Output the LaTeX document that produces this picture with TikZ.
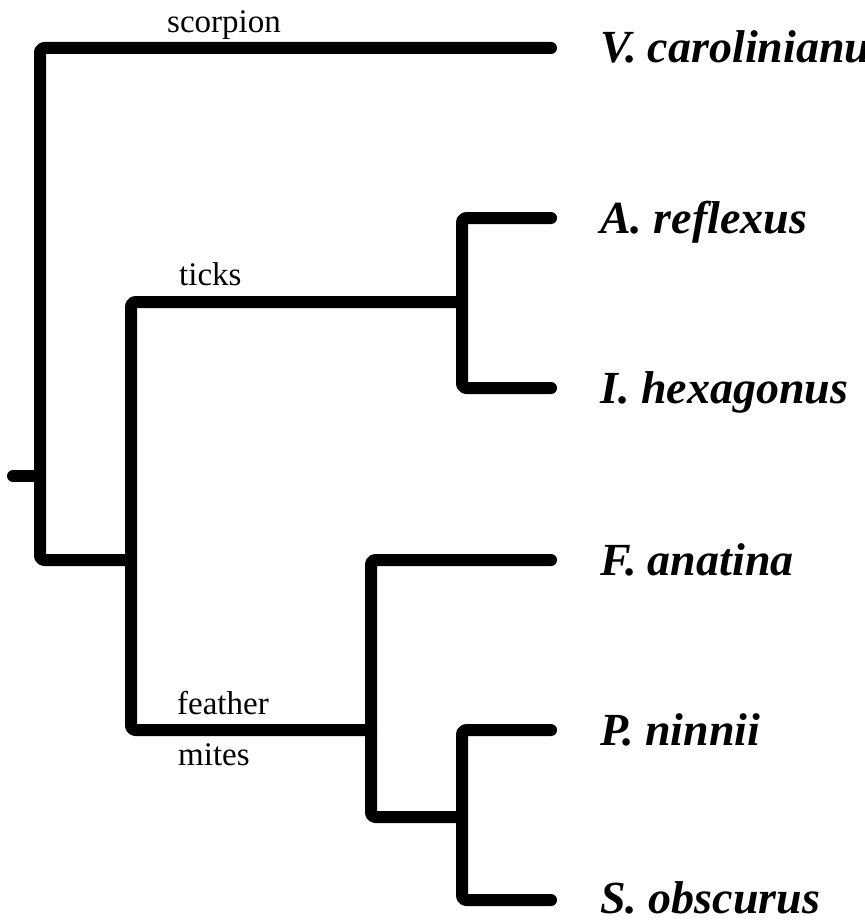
\documentclass[tikz,border=0pt]{standalone}
\usepackage{fontspec}
\setmainfont{Liberation Serif}
\begin{document}
\begin{tikzpicture}[x=1pt,y=-1pt,
  branch/.style={line width=12pt, line cap=round, line join=round, rounded corners=4pt},
  taxon/.style={anchor=base west, inner sep=0pt, font=\fontsize{46}{50}\selectfont\bfseries\itshape},
  clade/.style={anchor=base west, inner sep=0pt, font=\fontsize{33}{36}\selectfont}]
\useasboundingbox (0,0) rectangle (864,920);
% internal nodes
\coordinate (stub) at (13,476);
\coordinate (root) at (40,476);
\coordinate (mites) at (131,560);
\coordinate (tick) at (462,302);
\coordinate (feath) at (371,730);
\coordinate (ps) at (462,817);
% leaves
\coordinate (vc) at (551,48);
\coordinate (ar) at (551,218);
\coordinate (ih) at (551,388);
\coordinate (fa) at (551,560);
\coordinate (pn) at (551,730);
\coordinate (so) at (551,900);
% branches
\draw[branch] (stub) -- (root);
\draw[branch] (root) |- (vc);
\draw[branch] (root) |- (mites);
\draw[branch] (mites) |- (tick);
\draw[branch] (mites) |- (feath);
\draw[branch] (tick) |- (ar);
\draw[branch] (tick) |- (ih);
\draw[branch] (feath) |- (fa);
\draw[branch] (feath) |- (ps);
\draw[branch] (ps) |- (pn);
\draw[branch] (ps) |- (so);
% taxon labels
\node[taxon] (tvc) at (600,63) {V. carolinianus};
\node[taxon] (tar) at (600,233) {A. reflexus};
\node[taxon] (tih) at (600,403) {I. hexagonus};
\node[taxon] (tfa) at (600,575) {F. anatina};
\node[taxon] (tpn) at (600,745) {P. ninnii};
\node[taxon] (tso) at (600,913) {S. obscurus};
% clade labels
\node[clade] (lsc) at (167,33) {scorpion};
\node[clade] (lti) at (179,285) {ticks};
\node[clade] (lfe) at (177,714) {feather};
\node[clade] (lmi) at (178,765) {mites};
\end{tikzpicture}
\end{document}
